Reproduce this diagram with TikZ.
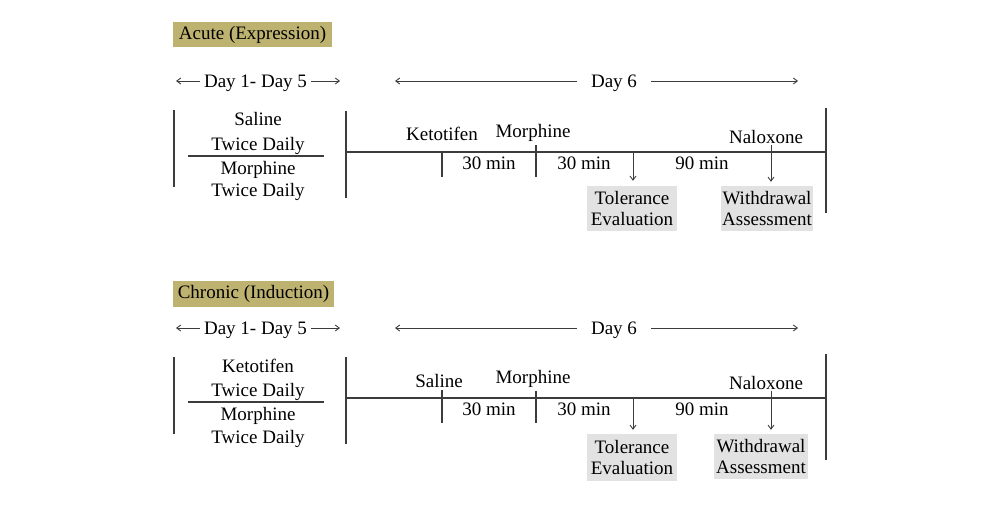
\documentclass[tikz,border=0pt]{standalone}
\usepackage{fontspec}
\setmainfont{Liberation Serif}
\usetikzlibrary{arrows.meta}
\definecolor{titleolive}{RGB}{190,178,112}
\definecolor{boxgray}{RGB}{226,226,226}
\definecolor{linecol}{RGB}{60,60,60}
\tikzset{
  lbl/.style={font=\fontsize{19}{21}\selectfont, inner sep=0pt, text=black, text height=12.6pt, text depth=0pt},
  titlebox/.style={font=\fontsize{19}{21}\selectfont, text=black, fill=titleolive, inner sep=0pt, text height=13pt, text depth=4pt},
  evalbox/.style={font=\fontsize{19}{21}\selectfont, text=black, fill=boxgray, align=center, inner sep=0pt},
  dayl/.style={lbl, inner xsep=4pt},
  dayw/.style={lbl, inner xsep=14pt},
  ln/.style={draw=linecol, line width=1.1pt},
  arr/.style={draw=linecol, line width=0.9pt, -{Straight Barb[length=4pt,width=6pt]}},
}
\begin{document}
\begin{tikzpicture}[x=1pt,y=-1pt]
\useasboundingbox (0,0) rectangle (1000,506);

% ===== Upper section: Acute =====
\node[titlebox, minimum width=159pt, minimum height=25pt] (t1) at (252.5,34.5) {Acute (Expression)};

\node[dayl] (d15a) at (255.5,81) {Day 1- Day 5};
\coordinate (d15aL) at (176,81);
\coordinate (d15aR) at (340,81);
\draw[arr] (d15a.west) -- (d15aL);
\draw[arr] (d15a.east) -- (d15aR);

\node[dayw] (d6a) at (614,81) {Day 6};
\coordinate (d6aL) at (395,81);
\coordinate (d6aR) at (798,81);
\draw[arr] (d6a.west) -- (d6aL);
\draw[arr] (d6a.east) -- (d6aR);

\coordinate (aLt) at (174,110); \coordinate (aLb) at (174,187);
\draw[ln] (aLt) -- (aLb);
\node[lbl] (as1) at (258,119) {Saline};
\node[lbl] (as2) at (258,144) {Twice Daily};
\coordinate (asepL) at (188,156); \coordinate (asepR) at (324,156);
\draw[ln] (asepL) -- (asepR);
\node[lbl] (am1) at (258,168) {Morphine};
\node[lbl] (am2) at (258,190) {Twice Daily};

\coordinate (aMt) at (346,111); \coordinate (aMb) at (346,198);
\draw[ln] (aMt) -- (aMb);
\coordinate (aTL) at (346,152); \coordinate (aTR) at (826,152);
\draw[ln] (aTL) -- (aTR);
\coordinate (aRt) at (826,108); \coordinate (aRb) at (826,213);
\draw[ln] (aRt) -- (aRb);

\coordinate (ak1t) at (442,152); \coordinate (ak1b) at (442,177);
\draw[ln] (ak1t) -- (ak1b);
\coordinate (ak2t) at (536,145); \coordinate (ak2b) at (536,177);
\draw[ln] (ak2t) -- (ak2b);

\node[lbl] (aketo) at (442,134) {Ketotifen};
\node[lbl] (amorph) at (533,131) {Morphine};
\node[lbl] (amin1) at (489,163) {30 min};
\node[lbl] (amin2) at (584,163) {30 min};
\node[lbl] (amin3) at (702,163) {90 min};
\node[lbl] (anal) at (766,137) {Naloxone};

\node[evalbox, minimum width=90pt, minimum height=45pt] (atol) at (632,208.5) {Tolerance\\Evaluation};
\node[evalbox, minimum width=92pt, minimum height=45pt] (awd) at (767,208.5) {Withdrawal\\Assessment};

\coordinate (aa1) at (633,152);
\draw[arr] (aa1) -- (aa1 |- atol.north) [shorten >=5pt];
\coordinate (aa2) at (771,145);
\draw[arr, shorten >=4pt] (aa2) -- (aa2 |- awd.north);

% ===== Lower section: Chronic =====
\node[titlebox, minimum width=161pt, minimum height=26pt] (t2) at (253.5,294) {Chronic (Induction)};

\node[dayl] (d15b) at (255.5,328) {Day 1- Day 5};
\coordinate (d15bL) at (176,328);
\coordinate (d15bR) at (340,328);
\draw[arr] (d15b.west) -- (d15bL);
\draw[arr] (d15b.east) -- (d15bR);

\node[dayw] (d6b) at (614,328) {Day 6};
\coordinate (d6bL) at (395,328);
\coordinate (d6bR) at (798,328);
\draw[arr] (d6b.west) -- (d6bL);
\draw[arr] (d6b.east) -- (d6bR);

\coordinate (bLt) at (174,357); \coordinate (bLb) at (174,434);
\draw[ln] (bLt) -- (bLb);
\node[lbl] (bk1) at (258,366) {Ketotifen};
\node[lbl] (bk2) at (258,390) {Twice Daily};
\coordinate (bsepL) at (188,402); \coordinate (bsepR) at (324,402);
\draw[ln] (bsepL) -- (bsepR);
\node[lbl] (bm1) at (258,414) {Morphine};
\node[lbl] (bm2) at (258,437) {Twice Daily};

\coordinate (bMt) at (346,357); \coordinate (bMb) at (346,444);
\draw[ln] (bMt) -- (bMb);
\coordinate (bTL) at (346,398); \coordinate (bTR) at (826,398);
\draw[ln] (bTL) -- (bTR);
\coordinate (bRt) at (826,354); \coordinate (bRb) at (826,460);
\draw[ln] (bRt) -- (bRb);

\coordinate (bk1t) at (442,390); \coordinate (bk1b) at (442,423);
\draw[ln] (bk1t) -- (bk1b);
\coordinate (bk2t) at (536,391); \coordinate (bk2b) at (536,423);
\draw[ln] (bk2t) -- (bk2b);

\node[lbl] (bsal) at (439,381) {Saline};
\node[lbl] (bmorph) at (533,377) {Morphine};
\node[lbl] (bmin1) at (489,409) {30 min};
\node[lbl] (bmin2) at (584,409) {30 min};
\node[lbl] (bmin3) at (702,409) {90 min};
\node[lbl] (bnal) at (766,383) {Naloxone};

\node[evalbox, minimum width=90pt, minimum height=47pt] (btol) at (632,457.5) {Tolerance\\Evaluation};
\node[evalbox, minimum width=94pt, minimum height=45pt] (bwd) at (761,456.5) {Withdrawal\\Assessment};

\coordinate (ba1) at (633,398);
\draw[arr, shorten >=4pt] (ba1) -- (ba1 |- btol.north);
\coordinate (ba2) at (771,391);
\draw[arr, shorten >=4pt] (ba2) -- (ba2 |- bwd.north);
\end{tikzpicture}
\end{document}
